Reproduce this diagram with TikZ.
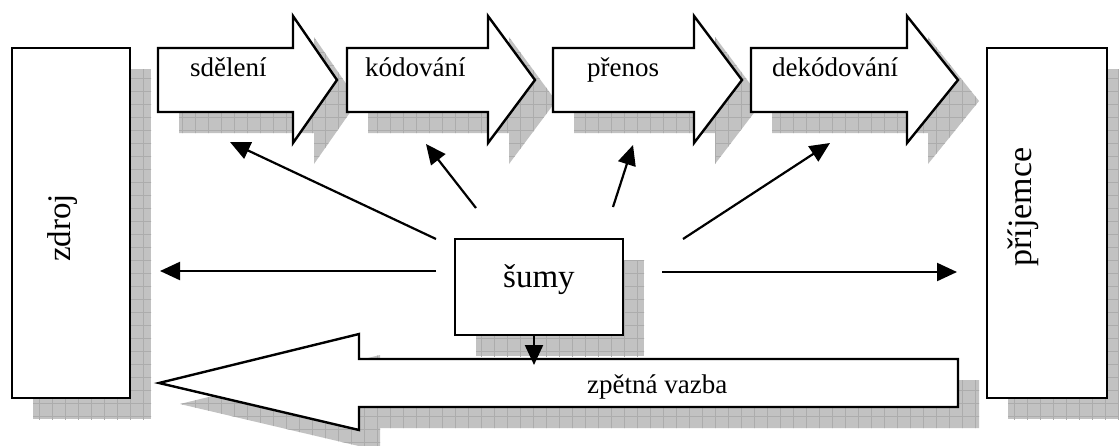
\documentclass[tikz,border=0pt]{standalone}
\usepackage{fontspec}
\setmainfont{Liberation Serif}
\usetikzlibrary{arrows.meta}
\definecolor{shadowgray}{HTML}{C2C2C2}
\definecolor{gridgray}{HTML}{ACACAC}
\newcommand\shadowshape[1]{%
  \fill[shadowgray] #1;
  \begin{scope}\clip #1;
    \draw[gridgray,line width=0.5pt,step=13pt] (0,460) grid (1140,0);
  \end{scope}}
\begin{document}
\begin{tikzpicture}[x=1pt,y=-1pt,
  outline/.style={draw=black,line width=2.4pt,fill=white,line join=miter},
  conn/.style={line width=2.2pt,-{Triangle[length=20pt,width=18pt]}},
  lbl/.style={inner sep=0pt,anchor=base west,font=\fontsize{27}{30}\selectfont},
  big/.style={inner sep=0pt,font=\fontsize{33}{36}\selectfont},
]
\useasboundingbox (0,0) rectangle (1119,445);
% ---------- shadows ----------
\shadowshape{[shift={(21,21)}] (12,48) rectangle (130,398)}
\shadowshape{[shift={(21,21)}] (987,48) rectangle (1107,398)}
\shadowshape{[shift={(21,21)}] (455,239) rectangle (623,335)}
\shadowshape{[shift={(21,21)}] (158,48) -- (293,48) -- (293,16) -- (337,80) -- (293,143) -- (293,112) -- (158,112) -- cycle}
\shadowshape{[shift={(21,21)}] (347,48) -- (488,48) -- (488,16) -- (535,80) -- (488,143) -- (488,112) -- (347,112) -- cycle}
\shadowshape{[shift={(21,21)}] (553,48) -- (694,48) -- (694,16) -- (742,80) -- (694,143) -- (694,112) -- (553,112) -- cycle}
\shadowshape{[shift={(21,21)}] (751,48) -- (907,48) -- (907,16) -- (958,80) -- (907,143) -- (907,112) -- (751,112) -- cycle}
\shadowshape{[shift={(21,21)}] (958,359) -- (359,359) -- (359,334) -- (159,383) -- (359,430) -- (359,407) -- (958,407) -- cycle}
% ---------- shapes ----------
\draw[outline] (12,48) rectangle (130,398);
\draw[outline] (987,48) rectangle (1107,398);
\draw[outline] (158,48) -- (293,48) -- (293,16) -- (337,80) -- (293,143) -- (293,112) -- (158,112) -- cycle;
\draw[outline] (347,48) -- (488,48) -- (488,16) -- (535,80) -- (488,143) -- (488,112) -- (347,112) -- cycle;
\draw[outline] (553,48) -- (694,48) -- (694,16) -- (742,80) -- (694,143) -- (694,112) -- (553,112) -- cycle;
\draw[outline] (751,48) -- (907,48) -- (907,16) -- (958,80) -- (907,143) -- (907,112) -- (751,112) -- cycle;
\draw[outline] (958,359) -- (359,359) -- (359,334) -- (159,383) -- (359,430) -- (359,407) -- (958,407) -- cycle;
\node[outline,inner sep=0pt,minimum width=168pt,minimum height=96pt] (sumybox) at (539,287) {};
% ---------- texts ----------
\node[big,rotate=90,anchor=base] (zdroj) at (70,228) {zdroj};
\node[big,rotate=90,anchor=base,font=\fontsize{34}{36}\selectfont] (prijemce) at (1031,207) {příjemce};
\node[big,anchor=base west] (sumy) at (503,287) {šumy};
\node[lbl] (sdeleni) at (190,76) {sdělení};
\node[lbl] (kodovani) at (365,76) {kódování};
\node[lbl] (prenos) at (587,76) {přenos};
\node[lbl] (dekodovani) at (772,76) {dekódování};
\node[lbl] (zpetna) at (587,393) {zpětná vazba};
% ---------- connector ends ----------
\coordinate (s1) at (436,239);
\coordinate (e1) at (230,142);
\coordinate (s2) at (476,208);
\coordinate (e2) at (426,144);
\coordinate (s3) at (613,207);
\coordinate (e3) at (633,145);
\coordinate (s4) at (683,239);
\coordinate (e4) at (830,143);
\coordinate (sl) at (436,271);
\coordinate (el) at (160,271);
\coordinate (sr) at (662,272);
\coordinate (er) at (957,272);
\coordinate (sd) at (534,335);
\coordinate (ed) at (534,365);
% ---------- connectors ----------
\draw[conn] (s1) -- (e1);
\draw[conn] (s2) -- (e2);
\draw[conn] (s3) -- (e3);
\draw[conn] (s4) -- (e4);
\draw[conn] (sl) -- (el);
\draw[conn] (sr) -- (er);
\draw[conn] (sd) -- (ed);
\end{tikzpicture}
\end{document}
